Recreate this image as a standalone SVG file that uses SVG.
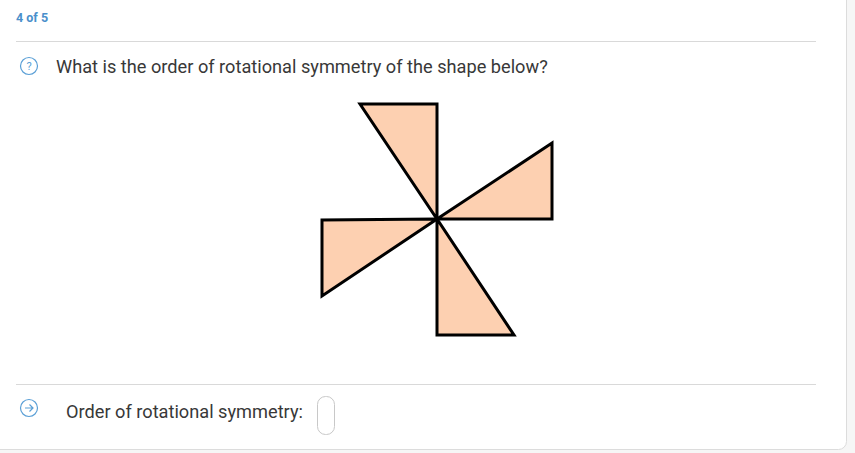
<svg xmlns="http://www.w3.org/2000/svg" width="855" height="453" viewBox="0 0 855 453">
<style>
.tri{fill:#fdd0b1;stroke:#000;stroke-width:3;stroke-linejoin:miter}
.rule{stroke:#d9d9d9;stroke-width:1}
.txt{font-family:Roboto,"Liberation Sans",sans-serif;fill:#383838}
.icon{fill:none;stroke:#5a9fd6;stroke-width:1.2}
</style>
<rect x="0" y="0" width="855" height="453" fill="#f6f6f6"/>
<rect x="-10" y="-10" width="856.5" height="459.5" rx="8" fill="#fff" stroke="#dcdcdc" stroke-width="1"/>
<text x="16" y="22" font-family="Roboto,'Liberation Sans',sans-serif" font-size="12.5" font-weight="bold" fill="#4a8fcb">4 of 5</text>
<line class="rule" x1="16" y1="41.5" x2="816" y2="41.5"/>
<g id="question">
<circle class="icon" cx="29" cy="66" r="8.5"/>
<text x="29" y="70" text-anchor="middle" font-family="Roboto,'Liberation Sans',sans-serif" font-size="11" fill="#5a9fd6">?</text>
<text class="txt" x="56" y="73" font-size="18.2">What is the order of rotational symmetry of the shape below?</text>
</g>
<g id="shape">
<polygon class="tri" points="360,104 437,104 437,219"/>
<polygon class="tri" points="437,219 552,143 552,219"/>
<polygon class="tri" points="437,219 437,335 514,335"/>
<polygon class="tri" points="437,219 322,220 322,296"/>
</g>
<line class="rule" x1="16" y1="384.5" x2="816" y2="384.5"/>
<g id="answer">
<circle class="icon" cx="29" cy="408" r="8.5"/>
<path d="M25,408 H33 M29.5,404.5 L33,408 L29.5,411.5" fill="none" stroke="#5a9fd6" stroke-width="1.2"/>
<text class="txt" x="66" y="418" font-size="18.2">Order of rotational symmetry:</text>
<rect x="317.5" y="396.5" width="17" height="38" rx="8" fill="#fff" stroke="#c8c8c8" stroke-width="1"/>
</g>
</svg>
